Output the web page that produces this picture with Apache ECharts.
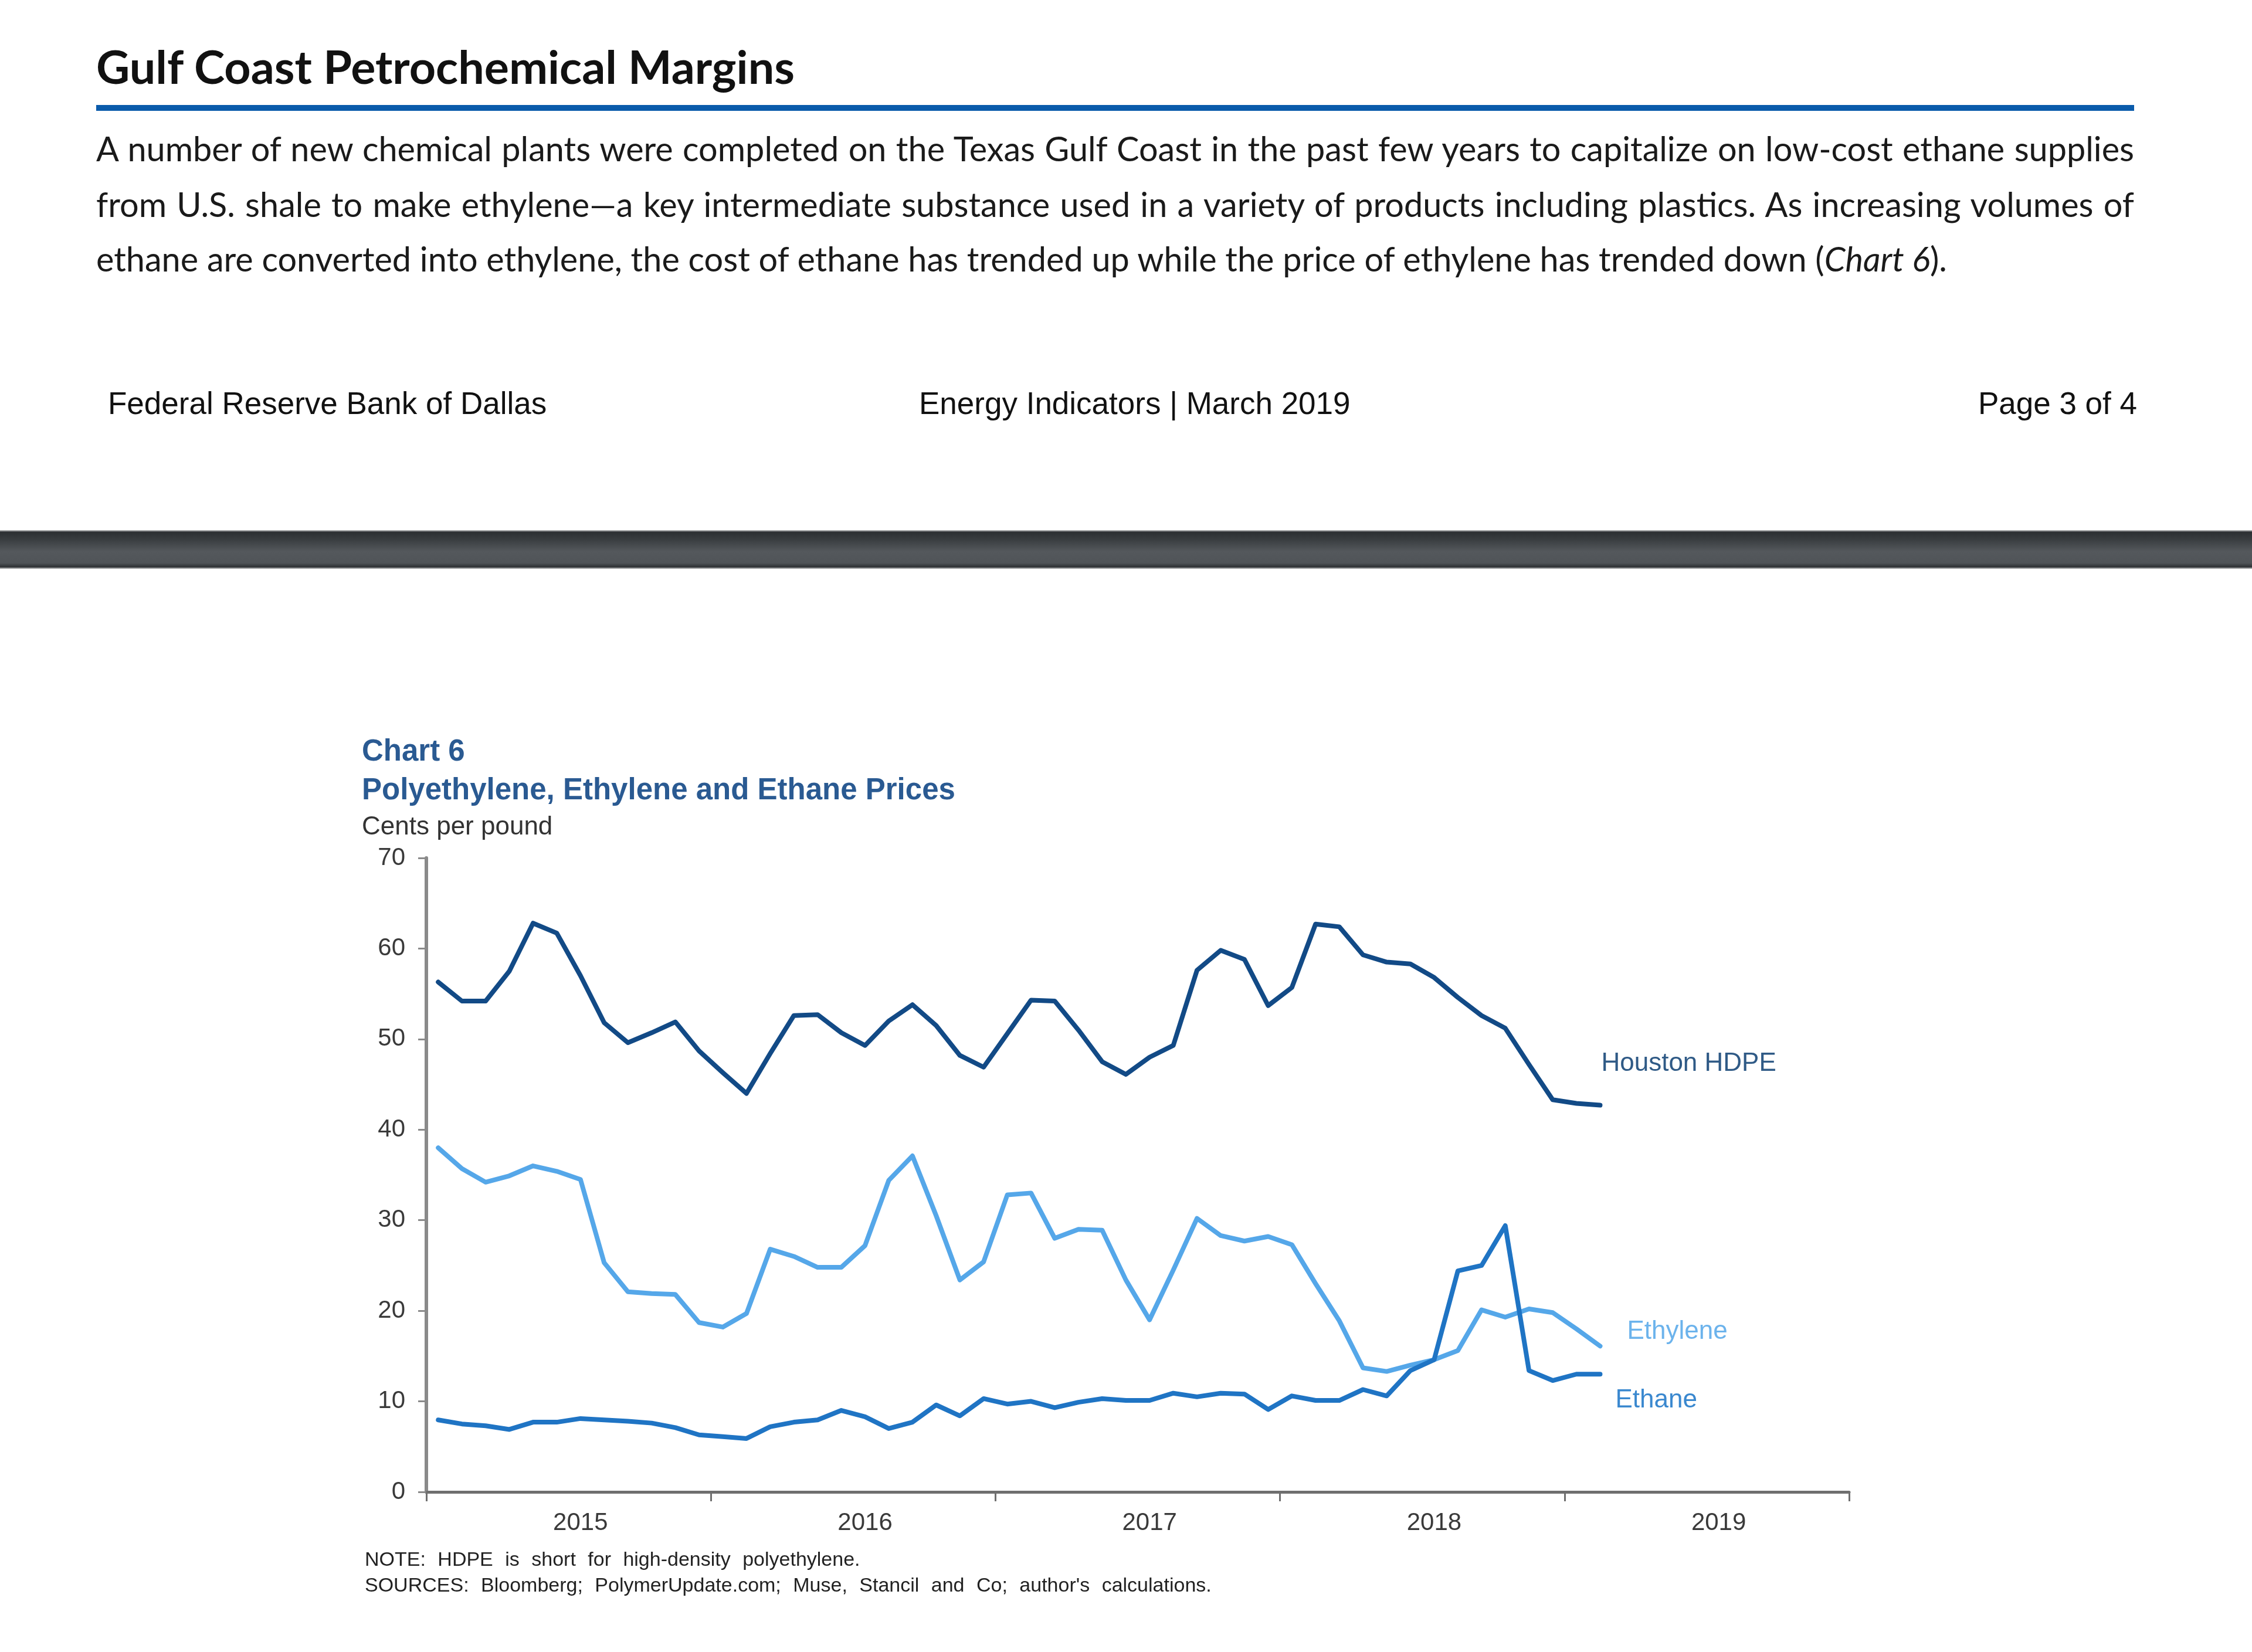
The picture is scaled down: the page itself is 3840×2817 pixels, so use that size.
<!DOCTYPE html>
<html>
<head>
<meta charset="utf-8">
<script src="https://cdn.jsdelivr.net/npm/echarts/dist/echarts.min.js"></script>
<style>
html,body{margin:0;padding:0;background:#fff;}
#page{position:relative;width:3840px;height:2817px;overflow:hidden;background:#fff;}
#chart{position:absolute;left:0;top:0;width:3840px;height:2817px;}
.t{position:absolute;white-space:nowrap;}
.title{left:164px;top:66px;font-family:Lato,'Open Sans',sans-serif;font-weight:700;font-size:79px;line-height:94px;color:#111;}
.rule{position:absolute;left:164px;top:179px;width:3475px;height:10px;background:#0a5bab;}
.para{position:absolute;left:164px;width:3475px;font-family:Lato,'Open Sans',sans-serif;font-size:57.6px;line-height:94px;color:#1a1a1a;white-space:nowrap;}
.just{text-align:justify;text-align-last:justify;}
.foot{font-family:'Liberation Sans',Arial,sans-serif;font-size:53px;line-height:70px;color:#111;top:653px;}
.bar{position:absolute;left:0;top:904px;width:3840px;height:66px;
 background:linear-gradient(to bottom,#c9cacb 0%,#2c2f32 5%,#3a3e41 25%,#54585c 55%,#505458 85%,#2e3134 95%,#c9cacb 100%);}
.note{position:absolute;left:622px;font-family:'Liberation Sans',Arial,sans-serif;font-size:34px;line-height:40px;color:#222;word-spacing:11px;white-space:nowrap;}
</style>
</head>
<body>
<div id="page">
<div id="chart"></div>
<div class="t title">Gulf Coast Petrochemical Margins</div>
<div class="rule"></div>
<div class="para just" style="top:206px;">A number of new chemical plants were completed on the Texas Gulf Coast in the past few years to capitalize on low-cost ethane supplies</div>
<div class="para just" style="top:301px;">from U.S. shale to make ethylene—a key intermediate substance used in a variety of products including plastics. As increasing volumes of</div>
<div class="para" style="top:394px;">ethane are converted into ethylene, the cost of ethane has trended up while the price of ethylene has trended down (<i>Chart 6</i>).</div>
<div class="t foot" style="left:184px;">Federal Reserve Bank of Dallas</div>
<div class="t foot" style="left:1567px;">Energy Indicators | March 2019</div>
<div class="t foot" style="right:196px;">Page 3 of 4</div>
<div class="bar"></div>
<div class="note" style="top:2638px;">NOTE: HDPE is short for high-density polyethylene.</div>
<div class="note" style="top:2682px;">SOURCES: Bloomberg; PolymerUpdate.com; Muse, Stancil and Co; author's calculations.</div>
</div>
<script>
// ---- data ----
const years = ['2015', '2016', '2017', '2018', '2019'];
const seriesNames = ['Houston HDPE', 'Ethylene', 'Ethane'];
const hdpe = [56.3, 54.2, 54.2, 57.5, 62.8, 61.7, 57.0, 51.8, 49.6, 50.7,
  51.9, 48.7, 46.3, 44.0, 48.4, 52.6, 52.7, 50.7, 49.3, 52.0,
  53.8, 51.5, 48.2, 46.9, 50.6, 54.3, 54.2, 51.0, 47.5, 46.1,
  48.0, 49.3, 57.6, 59.8, 58.8, 53.7, 55.7, 62.7, 62.4, 59.3,
  58.5, 58.3, 56.8, 54.6, 52.6, 51.2, 47.2, 43.3, 42.9, 42.7];
const ethylene = [38.0, 35.7, 34.2, 34.9, 36.0, 35.4, 34.5, 25.3, 22.1, 21.9,
  21.8, 18.7, 18.2, 19.7, 26.8, 26.0, 24.8, 24.8, 27.2, 34.4,
  37.1, 30.5, 23.4, 25.4, 32.8, 33.0, 28.0, 29.0, 28.9, 23.4,
  19.0, 24.5, 30.2, 28.3, 27.7, 28.2, 27.3, 23.0, 18.9, 13.7,
  13.3, 14.0, 14.6, 15.6, 20.1, 19.3, 20.2, 19.8, 18.0, 16.1];
const ethane = [7.95, 7.5, 7.3, 6.9, 7.7, 7.7, 8.1, 7.95, 7.8, 7.6,
  7.1, 6.3, 6.1, 5.9, 7.2, 7.7, 7.95, 9.0, 8.3, 7.0,
  7.7, 9.6, 8.4, 10.3, 9.7, 10.0, 9.3, 9.9, 10.3, 10.1,
  10.1, 10.9, 10.5, 10.9, 10.8, 9.1, 10.6, 10.1, 10.1, 11.3,
  10.6, 13.4, 14.6, 24.4, 25.0, 29.4, 13.4, 12.3, 13.0, 13.0];
const yTicks = [0, 10, 20, 30, 40, 50, 60, 70];

// monthly categories (one per month of each year)
const months = [];
years.forEach(y => { for (let m = 1; m <= 12; m++) months.push(y + '-' + (m < 10 ? '0' + m : m)); });

const FONT = "'Liberation Sans', Arial, sans-serif";
const colors = ['#124a86', '#55a7e9', '#1f74c4'];
const labelColors = ['#2f5a86', '#6cb3ec', '#3a88cf'];
const labelOffsets = [[2, -71], [46, -25], [26, 45]];
const seriesData = [hdpe, ethylene, ethane];

const chart = echarts.init(document.getElementById('chart'), null, {renderer: 'canvas'});
const option = {
  animation: false,
  backgroundColor: 'transparent',
  grid: {left: 727, right: 687, top: 1463, bottom: 273, containLabel: false},
  xAxis: {
    type: 'category', data: months, boundaryGap: true,
    axisLine: {show: true, lineStyle: {color: '#6f6f6f', width: 5}},
    axisTick: {show: true, interval: 11, length: 16, lineStyle: {color: '#6f6f6f', width: 3}},
    axisLabel: {show: true, interval: (i) => i % 12 === 6, formatter: v => v.slice(0, 4),
      fontSize: 42, color: '#3a3a3a', margin: 32, fontFamily: FONT},
    splitLine: {show: false}
  },
  yAxis: {
    type: 'value', min: yTicks[0], max: yTicks[yTicks.length - 1], interval: 10,
    axisLine: {show: true, lineStyle: {color: '#8a8a8a', width: 6}},
    axisTick: {show: true, length: 14, lineStyle: {color: '#8a8a8a', width: 3}},
    axisLabel: {fontSize: 42, color: '#3a3a3a', margin: 36, fontFamily: FONT},
    splitLine: {show: false}
  },
  series: seriesNames.map((n, k) => ({
    name: n, type: 'line', data: seriesData[k], showSymbol: false, symbol: 'none',
    lineStyle: {color: colors[k], width: 8, join: 'round', cap: 'round'},
    itemStyle: {color: colors[k]}, z: 2 + k
  }))
};
chart.setOption(option);

const graphics = [
  {type: 'text', x: 617, y: 1283, style: {text: 'Chart 6', fill: '#2a5a92', fontSize: 51, fontWeight: 'bold', fontFamily: FONT, verticalAlign: 'middle', align: 'left'}},
  {type: 'text', x: 617, y: 1349, style: {text: 'Polyethylene, Ethylene and Ethane Prices', fill: '#2a5a92', fontSize: 51, fontWeight: 'bold', fontFamily: FONT, verticalAlign: 'middle', align: 'left'}},
  {type: 'text', x: 617, y: 1411, style: {text: 'Cents per pound', fill: '#333', fontSize: 44, fontFamily: FONT, verticalAlign: 'middle', align: 'left'}}
];
seriesNames.forEach((n, k) => {
  const d = seriesData[k];
  const last = d.length - 1;
  const p = chart.convertToPixel({gridIndex: 0}, [last, d[last]]);
  graphics.push({type: 'text', x: p[0] + labelOffsets[k][0], y: p[1] + labelOffsets[k][1],
    style: {text: n, fill: labelColors[k], fontSize: 44, fontFamily: FONT, verticalAlign: 'middle', align: 'left'}});
});
chart.setOption({graphic: graphics});
</script>
</body>
</html>
